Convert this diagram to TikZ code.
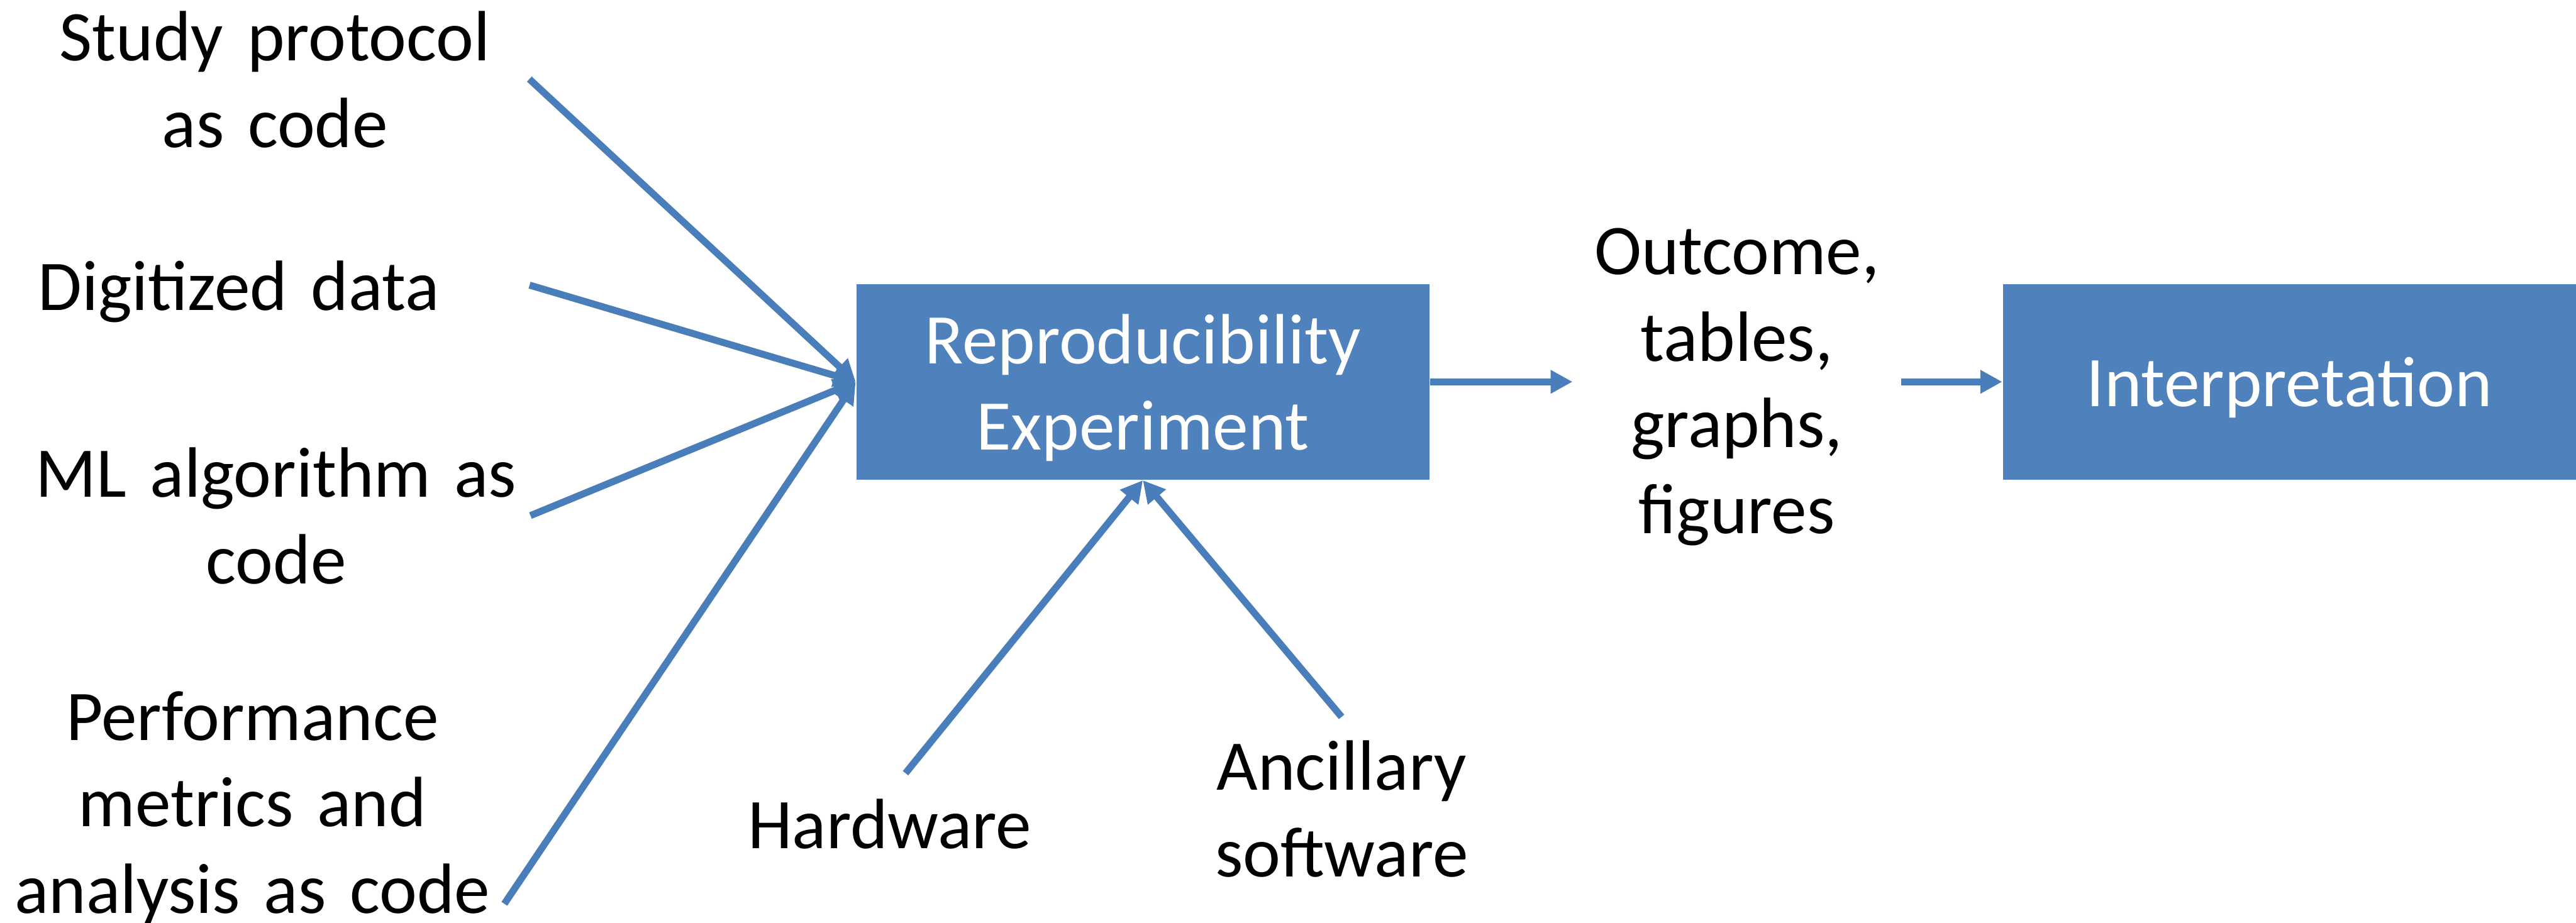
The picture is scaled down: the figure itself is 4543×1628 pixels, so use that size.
\documentclass[tikz,border=0pt]{standalone}
\usepackage{fontspec}
\setmainfont{Carlito}
\usetikzlibrary{arrows.meta}
\definecolor{boxblue}{HTML}{4F81BD}
\definecolor{lineblue}{HTML}{4A7EBB}
\newcommand{\pptfont}{\fontsize{17.9pt}{21.7pt}\selectfont}
\newcommand{\ptop}{\rule{0pt}{0.956em}}
\newcommand{\pbot}{\rule[-0.258em]{0pt}{0.258em}}
\tikzset{
  lbl/.style={font=\pptfont,align=center,inner sep=0pt,
    execute at begin node=\ptop,execute at end node=\pbot},
  blk/.style={lbl,fill=boxblue,text=white,text width=5.055cm,
    minimum width=5.055cm,minimum height=1.725cm},
  flow/.style={draw=lineblue,line width=1.75pt,-{Triangle[length=5.5pt,width=5.6pt]}}
}

\begin{document}
\begin{tikzpicture}[x=0.005cm,y=-0.005cm]
  \useasboundingbox (0,0) rectangle (4543,1628);
  % --- bloques ---
  \node[blk] (repro) at (2015.5,673.5) {Reproducibility\\Experiment};
  \node[blk] (interp) at (4037.5,673.5) {Interpretation};
  % --- entradas (izquierda) ---
  \foreach \n/\x/\y/\w/\t in {study/485/139.5/4.475cm/{Study protocol\\as code},
      digit/421/503/5.12cm/{Digitized data},
      ml/487/909.5/4.475cm/{ML algorithm as\\code},
      perf/445/1414.5/4.475cm/{Performance\\metrics and\\analysis as code}}{
    \node[lbl,text width=\w] (\n) at (\x,\y) {\t};
  }
  % --- entradas (abajo) ---
  \node[lbl] (hw) at (1569,1453) {Hardware};
  \node[lbl,text width=3cm] (anc) at (2366,1426.5) {Ancillary\\software};
  % resultado
  \node[lbl,text width=2.6cm,outer xsep=0.15cm] (outcome) at (3063,669) {Outcome,\\tables,\\graphs,\\figures};
  % --- flechas ---
  \foreach \n in {study,digit,ml}{\draw[flow] (\n.east) -- (repro.west);}
  \draw[flow] ([xshift=-0.02cm,yshift=-0.9cm]perf.east) -- (repro.west);
  \draw[flow] ([xshift=0.14cm,yshift=0.057cm]hw.north) -- (repro.south);
  \draw[flow] ([yshift=0.04cm]anc.north) -- (repro.south);
  \draw[flow] (repro.east) -- (repro.east -| outcome.west);
  \draw[flow] (outcome.east |- interp.west) -- (interp.west);
\end{tikzpicture}
\end{document}
